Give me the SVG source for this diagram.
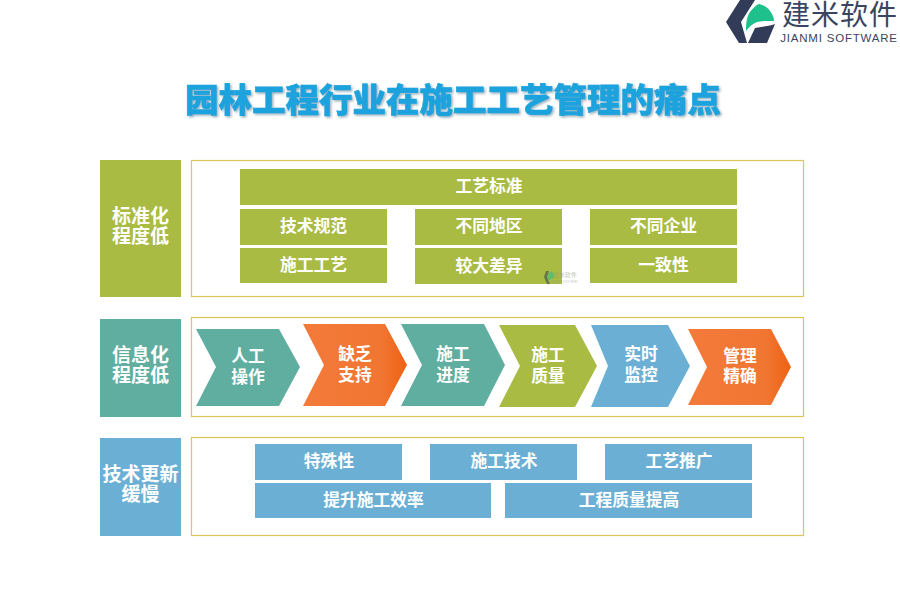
<svg xmlns="http://www.w3.org/2000/svg" width="900" height="600" viewBox="0 0 900 600">
<style>
text{font-family:"Noto Sans CJK SC","Liberation Sans",sans-serif;text-anchor:middle}
.t{fill:#fff;font-weight:700;font-size:16.800px}
.h{fill:#fff;font-weight:700;font-size:19px}
.box{fill:#fff;stroke:#dfc654;stroke-width:1.200}
.g{fill:#a9bb42}.b{fill:#6bb0d4}.s{fill:#5fae9f}.o{fill:url(#or)}
</style>
<defs>
<linearGradient id="or" x1="0" x2="1" y1="0" y2="0"><stop offset="0" stop-color="#f47a3a"/><stop offset=".75" stop-color="#f17632"/><stop offset="1" stop-color="#ee6213"/></linearGradient>
<filter id="sh" x="-5%" y="-20%" width="110%" height="140%"><feDropShadow dx="1.500" dy="1.500" stdDeviation="1.200" flood-color="#5a7f90" flood-opacity=".6"/></filter>
</defs>
<rect width="900" height="600" fill="#fff"/>
<g id="logo">
<path d="M740 0H755L741 22L747 43H739L726 22Z" fill="#323c58"/>
<path d="M748 43L755 28C762 27 769 26 775 24L767 43Z" fill="#323c58"/>
<path d="M746 31C746 22 747 16 750 12C753 8 756 5 759 4C764 5 768 8 770 11C773 15 774 18 774 21C766 21 761 21 757 22C752 24 749 27 746 31Z" fill="#1ec08c"/>
<text x="840" y="25" style="font-size:28px;fill:#3a4560;letter-spacing:1px">建米软件</text>
<text x="839" y="42" style="font-family:'Liberation Sans',sans-serif;font-size:11.500px;fill:#3a4560;letter-spacing:.8px">JIANMI SOFTWARE</text>
</g>
<text id="title" x="453" y="112" filter="url(#sh)" stroke="#1ba3dd" stroke-width=".6" style="font-size:33.500px;font-weight:900;fill:#1ba3dd">园林工程行业在施工工艺管理的痛点</text>
<g id="row1">
<rect x="100" y="160" width="81" height="137" class="g"/>
<text x="140.500" y="223" class="h">标准化</text><text x="140.500" y="243" class="h">程度低</text>
<rect x="191.500" y="160.500" width="612" height="136" class="box"/>
</g>
<g id="n-gybz"><rect x="240" y="169" width="497" height="36" class="g"/><text x="489" y="192" class="t">工艺标准</text></g>
<g id="n-jsgf"><rect x="240" y="209" width="147" height="36" class="g"/><text x="313.500" y="232" class="t">技术规范</text></g>
<g id="n-btdq"><rect x="415" y="209" width="147" height="36" class="g"/><text x="489" y="232" class="t">不同地区</text></g>
<g id="n-btqy"><rect x="590" y="209" width="147" height="36" class="g"/><text x="663.500" y="232" class="t">不同企业</text></g>
<g id="n-sggy"><rect x="240" y="248" width="147" height="35" class="g"/><text x="313.500" y="271" class="t">施工工艺</text></g>
<g id="n-jdcy"><rect x="415" y="248" width="147" height="36" class="g"/><text x="489" y="272" class="t">较大差异</text></g>
<g id="n-yzx"><rect x="590" y="248" width="147" height="35" class="g"/><text x="663.500" y="271" class="t">一致性</text></g>
<g id="watermark" opacity=".55">
<path d="M546 271L544 277L547 284H550L547 277L549 271Z" fill="#323c58"/>
<path d="M548 281C547 275 549 272 552 271C554 274 555 276 554 278C552 278 550 279 548 281Z" fill="#1ec08c"/>
<text x="565" y="277" style="font-size:6px;fill:#8a9a70">建米软件</text>
<text x="565" y="283" style="font-size:3px;fill:#999">JIANMI SOFTWARE</text>
</g>
<g id="row2">
<rect x="100" y="319" width="81" height="98" class="s"/>
<text x="140.500" y="362" class="h">信息化</text><text x="140.500" y="382" class="h">程度低</text>
<rect x="191.500" y="317.500" width="612" height="99" class="box"/>
</g>
<g id="c1"><path d="M196 329H279L300 367L279 406H196L216 367Z" class="s"/><text x="248" y="362" class="t">人工</text><text x="248" y="383" class="t">操作</text></g>
<g id="c2"><path d="M303 324H385L407 365L385 406H303L324 365Z" class="o"/><text x="355" y="360" class="t">缺乏</text><text x="355" y="381" class="t">支持</text></g>
<g id="c3"><path d="M401 324H484L505 365L484 406H401L422 365Z" class="s"/><text x="453" y="360" class="t">施工</text><text x="453" y="381" class="t">进度</text></g>
<g id="c4"><path d="M499 325H575L597 366L575 407H499L520 366Z" class="g"/><text x="548" y="361" class="t">施工</text><text x="548" y="382" class="t">质量</text></g>
<g id="c5"><path d="M591 325H668L690 366L668 407H591L608 366Z" class="b"/><text x="641" y="360" class="t">实时</text><text x="641" y="381" class="t">监控</text></g>
<g id="c6"><path d="M688 329H771L791 367L771 405H688L707 367Z" class="o"/><text x="740" y="362" class="t">管理</text><text x="740" y="382" class="t">精确</text></g>
<g id="row3">
<rect x="100" y="438" width="81" height="98" class="b"/>
<text x="140.500" y="481" class="h">技术更新</text><text x="140.500" y="501" class="h">缓慢</text>
<rect x="191.500" y="437.500" width="612" height="98" class="box"/>
</g>
<g id="n-tsx"><rect x="255" y="444" width="147" height="36" class="b"/><text x="329" y="467" class="t">特殊性</text></g>
<g id="n-sgjs"><rect x="430" y="444" width="147" height="36" class="b"/><text x="504" y="467" class="t">施工技术</text></g>
<g id="n-gytg"><rect x="605" y="444" width="147" height="36" class="b"/><text x="679" y="467" class="t">工艺推广</text></g>
<g id="n-tssg"><rect x="255" y="483" width="236" height="35" class="b"/><text x="373.500" y="506" class="t">提升施工效率</text></g>
<g id="n-gczl"><rect x="505" y="483" width="247" height="35" class="b"/><text x="629" y="506" class="t">工程质量提高</text></g>
<g id="connectors"/>
</svg>
